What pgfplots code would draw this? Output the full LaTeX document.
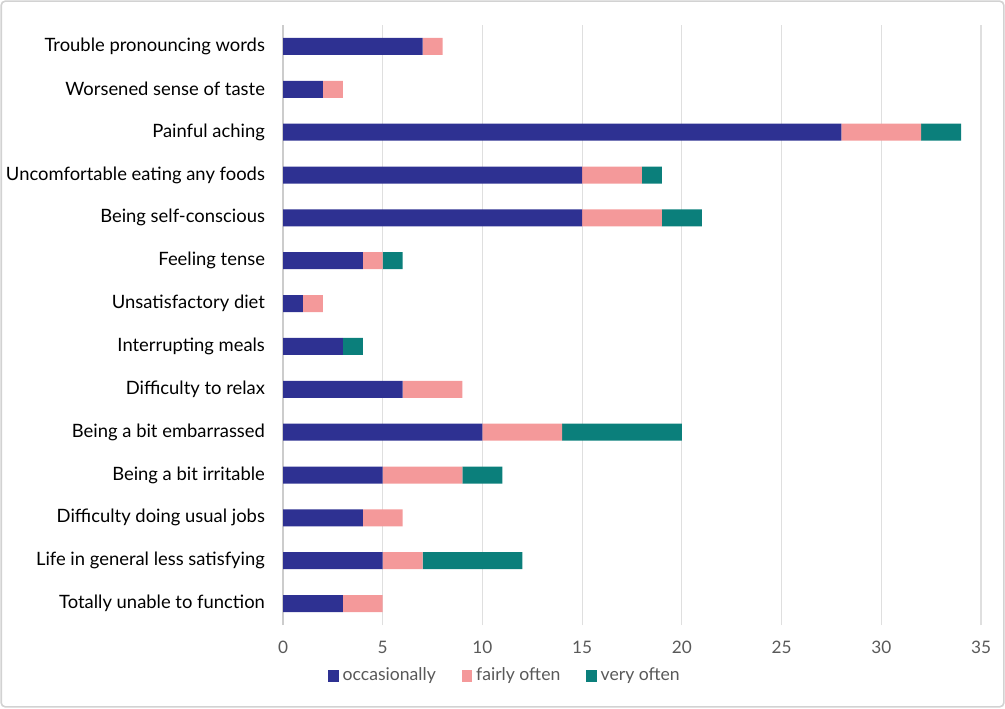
\documentclass[border=0pt]{standalone}
\usepackage{pgfplots}
\pgfplotsset{compat=1.18}
\usepackage{fontspec}
\setmainfont{Lato}
\definecolor{occ}{HTML}{2E3192}
\definecolor{fair}{HTML}{F4999A}
\definecolor{very}{HTML}{0B7F7B}
\definecolor{tickgray}{HTML}{595959}
\pgfplotstableread{
cat occ fair very
13 7 1 0
12 2 1 0
11 28 4 2
10 15 3 1
9 15 4 2
8 4 1 1
7 1 1 0
6 3 0 1
5 6 3 0
4 10 4 6
3 5 4 2
2 4 2 0
1 5 2 5
0 3 2 0
}\datatable
\begin{document}
\begin{tikzpicture}
\path[use as bounding box] (0,0) rectangle (502.5pt,354pt);
\draw[gray!35, line width=0.8pt, rounded corners=2pt] (0.6pt,0.6pt) rectangle (501.9pt,353.4pt);
\begin{axis}[
  at={(141.5pt,41.5pt)}, anchor=south west,
  scale only axis, width=349pt, height=300pt,
  xbar stacked, bar width=8.5pt,
  xmin=0, xmax=35, ymin=-0.5, ymax=13.5,
  xtick={0,5,...,35},
  ytick={0,...,13},
  yticklabels={Totally unable to function,Life in general less satisfying,Difficulty doing usual jobs,Being a bit irritable,Being a bit embarrassed,Difficulty to relax,Interrupting meals,Unsatisfactory diet,Feeling tense,Being self-conscious,Uncomfortable eating any foods,Painful aching,Worsened sense of taste,Trouble pronouncing words},
  yticklabel style={font=\fontsize{9.2pt}{11pt}\selectfont, text=black, xshift=-5.5pt},
  xticklabel style={font=\fontsize{8.6pt}{10pt}\selectfont, text=tickgray, yshift=-4.5pt},
  /pgf/number format/assume math mode=true,
  major tick length=0pt,
  xmajorgrids, grid style={gray!25, line width=0.6pt},
  axis x line*=bottom, axis y line*=left,
  x axis line style={draw=none},
  y axis line style={draw=gray!40, line width=0.6pt},
  legend style={at={(0.3195,-0.085)}, anchor=center, draw=none, legend columns=3,
    font=\fontsize{8.8pt}{10pt}\selectfont\color{tickgray},
    /tikz/every even column/.append style={column sep=11pt}},
  legend image code/.code={\fill[#1] (0pt,-2.8pt) rectangle (5.2pt,2.8pt);},
  legend cell align=left,
]
\addplot[fill=occ, draw=none] table[x=occ, y=cat]{\datatable};
\addplot[fill=fair, draw=none] table[x=fair, y=cat]{\datatable};
\addplot[fill=very, draw=none] table[x=very, y=cat]{\datatable};
\legend{occasionally, fairly often, very often}
\end{axis}
\end{tikzpicture}
\end{document}
